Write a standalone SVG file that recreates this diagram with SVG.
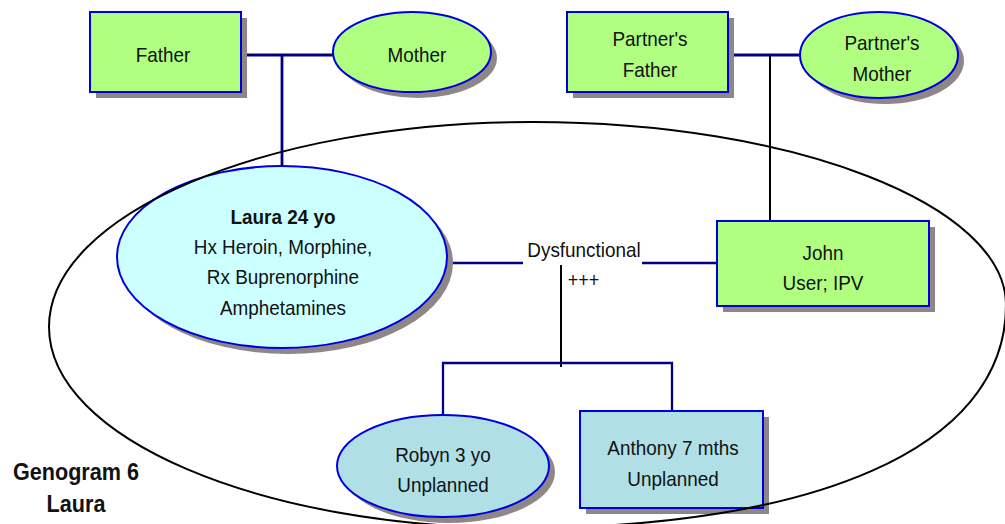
<svg xmlns="http://www.w3.org/2000/svg" width="1005" height="524" viewBox="0 0 1005 524">
  <style>
    .shadow { fill: #8f8787; stroke: none; }
    .male { fill: #b0ff80; stroke: #0000dd; stroke-width: 2; }
    .female { fill: #b0ff80; stroke: #0000dd; stroke-width: 2; }
    .index { fill: #ccffff; stroke: #0000dd; stroke-width: 2; }
    .child { fill: #b0e0e6; stroke: #0000dd; stroke-width: 2; }
    .t { font-family: "Liberation Sans", Arial, sans-serif; font-size: 21px; fill: #111; text-anchor: middle;
         transform-box: fill-box; transform-origin: center; transform: scaleX(0.9); }
    .b { font-weight: bold; }
    .title { font-size: 24px; }
    .small { font-size: 20px; text-anchor: start; }
    .rel { stroke: #000080; stroke-width: 2.8; fill: none; }
    .rel2 { stroke: #000080; stroke-width: 2.3; fill: none; }
    .desc { stroke: #000; stroke-width: 2; fill: none; }
    .house { stroke: #000; stroke-width: 2; fill: none; }
  </style>

  <!-- connectors -->
  <g id="connectors">
    <line class="rel" x1="241" y1="55" x2="333" y2="55"/>
    <line class="rel" x1="282" y1="55" x2="282" y2="167"/>
    <line class="rel" x1="728" y1="55" x2="800" y2="55"/>
    <line class="desc" x1="770" y1="55" x2="770" y2="221"/>
    <line class="rel2" x1="447" y1="263" x2="523" y2="263"/>
    <line class="rel2" x1="642" y1="263" x2="717" y2="263"/>
    <line class="desc" x1="561" y1="265" x2="561" y2="367"/>
    <polyline class="rel2" points="443,415 443,363 672,363 672,411"/>
  </g>

  <g id="father">
    <rect class="shadow" x="96" y="18" width="151" height="80"/>
    <rect class="male" x="90" y="12" width="151" height="80"/>
    <text class="t" x="163" y="62">Father</text>
  </g>

  <g id="mother">
    <ellipse class="shadow" cx="418" cy="58" rx="79" ry="40"/>
    <ellipse class="female" cx="412" cy="52" rx="79" ry="40"/>
    <text class="t" x="417" y="62">Mother</text>
  </g>

  <g id="partners-father">
    <rect class="shadow" x="573" y="18" width="161" height="80"/>
    <rect class="male" x="567" y="12" width="161" height="80"/>
    <text class="t" x="650" y="46">Partner's</text>
    <text class="t" x="650" y="77">Father</text>
  </g>

  <g id="partners-mother">
    <ellipse class="shadow" cx="885" cy="61" rx="79" ry="43"/>
    <ellipse class="female" cx="879" cy="55" rx="79" ry="43"/>
    <text class="t" x="882" y="50">Partner's</text>
    <text class="t" x="882" y="81">Mother</text>
  </g>

  <g id="laura">
    <ellipse class="shadow" cx="288" cy="263" rx="165" ry="91"/>
    <ellipse class="index" cx="282" cy="257" rx="165" ry="91"/>
    <text class="t b" x="283" y="224">Laura 24 yo</text>
    <text class="t" x="283" y="254">Hx Heroin, Morphine,</text>
    <text class="t" x="283" y="284">Rx Buprenorphine</text>
    <text class="t" x="283" y="315">Amphetamines</text>
  </g>

  <g id="relationship">
    <text class="t" x="584" y="257">Dysfunctional</text>
    <text class="t small" x="566" y="287">+++</text>
  </g>

  <g id="john">
    <rect class="shadow" x="723" y="227" width="212" height="85"/>
    <rect class="male" x="717" y="221" width="212" height="85"/>
    <text class="t" x="823" y="260">John</text>
    <text class="t" x="823" y="290">User; IPV</text>
  </g>

  <g id="robyn">
    <ellipse class="shadow" cx="449" cy="472" rx="106" ry="51"/>
    <ellipse class="child" cx="443" cy="466" rx="106" ry="51"/>
    <text class="t" x="443" y="462">Robyn 3 yo</text>
    <text class="t" x="443" y="492">Unplanned</text>
  </g>

  <g id="anthony">
    <rect class="shadow" x="586" y="417" width="183" height="97"/>
    <rect class="child" x="580" y="411" width="183" height="97"/>
    <text class="t" x="673" y="455">Anthony 7 mths</text>
    <text class="t" x="673" y="486">Unplanned</text>
  </g>

  <!-- household boundary -->
  <g id="household">
    <path class="house" d="M 49 327 C 49 214, 266 122, 533 122 C 794 122, 1006 205, 1006 305 C 1006 450, 810 528, 520 528 C 260 528, 49 438, 49 327 Z"/>
  </g>

  <g id="title">
    <text class="t b title" x="76" y="480">Genogram 6</text>
    <text class="t b title" x="76" y="512">Laura</text>
  </g>
</svg>
